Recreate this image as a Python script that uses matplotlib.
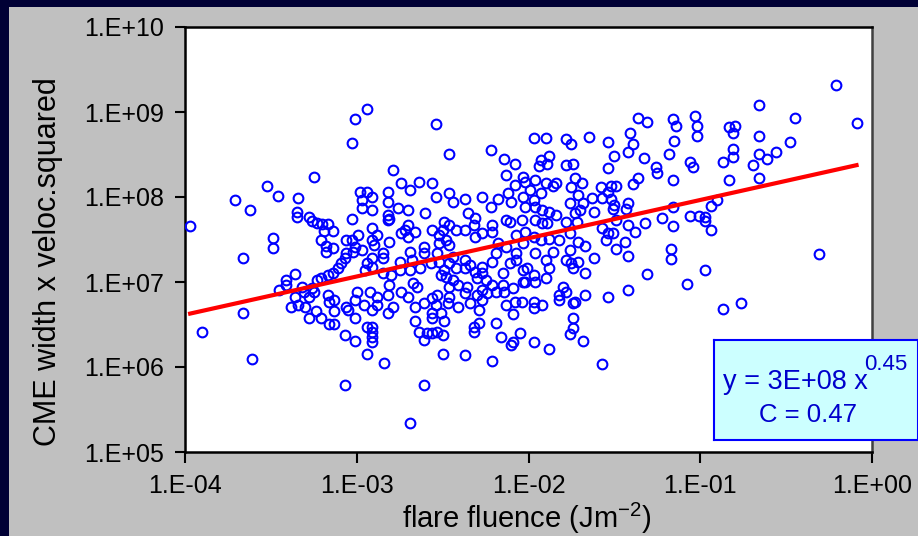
import numpy as np
import matplotlib
matplotlib.use("Agg")
import matplotlib.pyplot as plt
import matplotlib.ticker as mticker
from matplotlib.patches import Rectangle

plt.rcParams["font.family"] = ["Liberation Sans", "DejaVu Sans"]
plt.rcParams["mathtext.fontset"] = "custom"
plt.rcParams["mathtext.rm"] = "Liberation Sans"
plt.rcParams["mathtext.it"] = "Liberation Sans"

NAVY = "#000035"
PANEL = "#C0C0C0"
BLUE = "#0000FF"
RED = "#FF0000"

# log10 of flare fluence (J m^-2)
log_fluence = [
    -0.21, -2.94, -3.01, -3.03, -2.54, -2.46, -2.22, -2.14, -2.08, -1.97,
    -2.79, -1.90, -1.78, -1.75, -1.65, -1.54, -1.36, -1.31, -1.41, -1.39,
    -1.42, -1.50, -1.33, -1.16, -1.14, -1.15, -1.18, -1.03, -1.02, -1.02,
    -1.06, -1.88, -1.93, -1.94, -1.89, -1.78, -1.74, -1.54, -1.26, -1.04,
    -0.66, -0.45, -0.09, -0.83, -0.80, -0.81, -0.66, -0.48, -0.81, -0.81,
    -0.66, -0.56, -0.61, -0.87, -0.69, -1.25, -1.16, -1.36, -1.39, -2.02,
    -1.96, -1.90, -1.86, -1.84, -1.75, -1.69, -1.73, -1.58, -1.52, -1.49,
    -1.54, -1.57, -1.52, -1.50, -1.51, -1.63, -1.71, -1.76, -1.68, -1.62,
    -1.70, -1.73, -1.72, -1.78, -1.84, -1.88, -1.92, -1.96, -2.02, -2.04,
    -1.96, -1.92, -1.89, -2.03, -1.97, -1.93, -1.99, -1.42, -1.43, -1.49,
    -1.42, -1.38, -1.32, -1.22, -1.16, -1.16, -1.06, -1.57, -1.54, -1.55,
    -1.51, -1.44, -1.49, -1.42, -1.62, -1.67, -1.71, -1.76, -1.82, -1.88,
    -1.93, -1.97, -2.02, -2.03, -1.96, -1.90, -1.88, -2.01, -1.78, -1.75,
    -1.71, -1.74, -1.86, -1.76, -1.67, -1.97, -1.96, -1.90, -2.02, -1.80,
    -1.78, -1.82, -1.67, -1.73, -1.54, -1.42, -1.31, -1.17, -1.17, -1.08,
    -1.97, -1.92, -2.04, -0.83, -0.66, -0.90, -0.94, -1.01, -0.97, -0.97,
    -0.94, -0.31, -0.97, -0.76, -0.87, -2.74, -2.69, -2.64, -2.56, -2.54,
    -2.46, -2.44, -2.37, -2.27, -2.22, -2.18, -2.12, -2.10, -2.13, -2.08,
    -2.03, -2.98, -2.94, -2.91, -2.97, -2.97, -2.91, -3.03, -2.82, -2.82,
    -2.76, -2.70, -2.82, -2.81, -2.82, -2.60, -2.70, -2.72, -2.66, -2.74,
    -2.70, -2.56, -2.49, -2.50, -2.46, -2.52, -2.48, -2.52, -2.46, -2.42,
    -2.37, -2.35, -2.31, -2.32, -2.31, -2.27, -2.21, -2.21, -2.18, -2.13,
    -2.11, -2.07, -2.91, -2.91, -2.88, -2.90, -2.81, -3.01, -2.97, -3.03,
    -2.85, -2.85, -2.91, -2.94, -2.91, -2.95, -2.75, -2.69, -2.68, -2.61,
    -2.61, -2.53, -2.57, -2.63, -2.69, -2.75, -2.80, -2.85, -2.52, -2.49,
    -2.46, -2.44, -2.42, -2.37, -2.37, -2.34, -2.31, -2.27, -2.27, -2.21,
    -2.30, -2.25, -2.19, -2.13, -2.07, -2.07, -2.03, -2.11, -2.15, -2.15,
    -2.03, -2.09, -2.14, -2.21, -2.19, -2.27, -2.30, -2.36, -2.41, -2.44,
    -2.48, -2.51, -2.46, -2.46, -2.53, -2.56, -2.54, -2.61, -2.65, -2.67,
    -2.74, -2.81, -2.82, -2.88, -2.92, -3.00, -3.01, -2.96, -2.88, -2.79,
    -2.70, -2.37, -2.34, -2.27, -2.24, -2.41, -2.47, -2.13, -2.08, -2.99,
    -3.02, -3.25, -3.52, -3.46, -3.71, -3.62, -3.34, -3.35, -3.35, -3.28,
    -3.26, -3.23, -3.20, -3.17, -3.19, -3.14, -3.97, -3.49, -3.49, -3.66,
    -3.21, -3.18, -3.14, -3.18, -3.06, -3.06, -3.07, -3.09, -3.11, -3.14,
    -3.17, -3.21, -3.23, -3.36, -3.41, -3.41, -3.45, -3.32, -3.31, -3.26,
    -3.25, -3.28, -3.36, -3.17, -3.16, -3.13, -3.06, -3.38, -3.34, -3.30,
    -3.66, -3.90, -3.61, -3.28, -3.24, -3.21, -3.16, -3.13, -3.13, -3.07,
    -3.01, -3.01, -3.05, -3.07, -2.91, -2.94, -2.91, -2.91, -2.91, -2.91,
    -2.94, -2.84, -2.82, -2.66, -2.66, -2.64, -2.61, -2.59, -2.56, -2.56,
    -2.53, -2.50, -2.49, -2.51, -2.56, -2.50, -2.61, -2.69, -2.37, -2.32,
    -2.32, -2.29, -2.29, -2.21, -2.19, -2.16, -2.10, -2.09, -2.09, -2.05,
    -1.97, -1.97, -1.88, -1.82, -1.74, -1.74, -1.74, -1.76, -1.68, -1.57,
]

# log10 of CME width x velocity squared
log_product = [
    9.32, 9.04, 8.92, 8.64, 8.86, 8.51, 8.55, 8.45, 8.39, 8.69,
    8.32, 8.69, 8.68, 8.62, 8.71, 8.65, 8.93, 8.88, 8.75, 8.62,
    8.53, 8.48, 8.46, 8.92, 8.84, 8.66, 8.51, 8.95, 8.84, 8.72,
    8.41, 8.48, 8.44, 8.36, 8.39, 8.38, 8.39, 8.34, 8.35, 8.35,
    9.08, 8.93, 8.87, 8.82, 8.84, 8.75, 8.72, 8.65, 8.56, 8.47,
    8.51, 8.53, 8.45, 8.41, 8.38, 8.28, 8.20, 8.22, 8.15, 8.18,
    8.20, 8.16, 8.13, 8.16, 8.12, 8.16, 8.22, 8.12, 8.13, 8.13,
    8.06, 7.99, 7.98, 7.91, 7.86, 7.99, 8.02, 7.93, 7.93, 7.82,
    7.85, 7.81, 7.71, 7.71, 7.79, 7.82, 7.85, 7.88, 7.88, 7.73,
    7.73, 7.69, 7.69, 8.00, 7.96, 8.05, 8.08, 7.93, 7.86, 7.73,
    7.67, 7.59, 7.69, 7.75, 7.88, 7.66, 7.78, 7.64, 7.58, 7.49,
    7.58, 7.47, 7.39, 7.31, 7.28, 7.42, 7.47, 7.58, 7.49, 7.51,
    7.49, 7.53, 7.59, 7.46, 7.34, 7.26, 7.16, 7.16, 7.26, 7.22,
    7.24, 7.16, 7.35, 7.38, 7.11, 7.08, 7.00, 7.05, 7.00, 6.94,
    6.88, 6.85, 6.85, 6.76, 6.82, 6.91, 7.09, 7.39, 7.27, 6.98,
    6.76, 6.73, 6.76, 8.20, 8.22, 7.96, 7.89, 7.78, 7.76, 7.72,
    7.61, 7.33, 7.14, 6.75, 6.68, 8.16, 8.08, 8.18, 8.16, 8.00,
    8.05, 7.94, 7.98, 8.00, 7.88, 7.98, 8.05, 7.94, 8.26, 8.14,
    8.24, 8.06, 8.06, 8.00, 7.96, 7.87, 7.85, 7.74, 8.06, 7.94,
    7.87, 7.85, 7.79, 7.74, 7.73, 7.81, 7.67, 7.61, 7.59, 7.58,
    7.53, 7.61, 7.71, 7.61, 7.67, 7.55, 7.49, 7.46, 7.44, 7.61,
    7.61, 7.81, 7.75, 7.67, 7.53, 7.58, 7.67, 7.59, 7.46, 7.73,
    7.71, 7.55, 7.64, 7.49, 7.55, 7.44, 7.47, 7.41, 7.38, 7.49,
    7.34, 7.28, 7.28, 7.22, 7.18, 7.14, 7.24, 7.35, 7.26, 7.41,
    7.34, 7.34, 7.22, 7.16, 7.14, 7.14, 7.08, 7.11, 7.24, 7.14,
    7.22, 7.29, 7.16, 7.16, 7.26, 7.20, 7.12, 7.18, 7.11, 7.24,
    7.05, 7.02, 7.34, 7.41, 7.34, 7.26, 7.14, 7.22, 7.11, 6.96,
    7.00, 6.93, 6.88, 6.96, 6.88, 6.91, 6.85, 6.94, 6.96, 7.02,
    7.06, 7.08, 6.94, 6.82, 6.85, 6.81, 6.73, 6.75, 6.94, 6.99,
    6.88, 6.96, 6.85, 6.82, 6.88, 6.88, 6.79, 6.73, 6.73, 6.71,
    6.82, 6.87, 6.75, 6.79, 6.87, 6.71, 6.75, 6.73, 6.76, 7.55,
    7.35, 8.24, 8.13, 8.01, 7.96, 7.85, 7.99, 7.82, 7.76, 7.76,
    7.72, 7.69, 7.68, 7.68, 7.60, 7.60, 7.66, 7.52, 7.40, 7.28,
    7.49, 7.42, 7.40, 7.35, 7.49, 7.34, 7.28, 7.22, 7.16, 7.11,
    7.08, 7.05, 7.02, 7.09, 7.02, 6.96, 6.91, 6.94, 6.88, 6.93,
    6.88, 6.82, 6.82, 6.85, 6.76, 6.79, 6.71, 6.71, 6.73, 6.71,
    6.64, 6.41, 6.09, 6.58, 6.66, 6.58, 6.51, 6.51, 6.66, 6.38,
    6.31, 6.58, 6.67, 5.79, 6.67, 6.47, 6.47, 6.41, 6.35, 6.29,
    6.15, 6.05, 6.64, 6.71, 6.54, 6.41, 6.32, 6.40, 6.58, 6.40,
    6.41, 6.38, 6.54, 6.64, 6.64, 6.15, 5.79, 5.34, 6.14, 6.47,
    6.41, 6.52, 6.67, 6.07, 6.52, 6.35, 6.26, 6.29, 6.62, 6.40,
    6.69, 6.29, 6.21, 6.79, 6.75, 6.58, 6.46, 6.39, 6.31, 6.04,
]

# power-law fit drawn by the original chart
fit_coef = 2.6e8
fit_exp = 0.45
fit_label = "y = 3E+08 x"
fit_power = "0.45"
corr_label = "C = 0.47"

x_ticks = [1e-4, 1e-3, 1e-2, 1e-1, 1e0]
y_ticks = [1e5, 1e6, 1e7, 1e8, 1e9, 1e10]

fluence = 10 ** np.array(log_fluence)
product = 10 ** np.array(log_product)

W, H = 918, 536
fig = plt.figure(figsize=(W / 100, H / 100), dpi=100)
fig.patch.set_facecolor(NAVY)
fig.patches.append(Rectangle((9 / W, 0), 1, 1 - 7 / H,
                             transform=fig.transFigure, facecolor=PANEL,
                             edgecolor="none", zorder=-10))

ax = fig.add_axes([185 / W, 1 - 452 / H, 687 / W, 425 / H])
ax.set_zorder(1)
ax.set_facecolor("white")
ax.set_xscale("log")
ax.set_yscale("log")
ax.set_xlim(1e-4, 1e0)
ax.set_ylim(1e5, 1e10)

ax.plot(fluence, product, linestyle="none", marker="o", markersize=7,
        markerfacecolor="none", markeredgecolor=BLUE, markeredgewidth=1.5,
        zorder=3)

fit_x = np.logspace(min(log_fluence), max(log_fluence), 200)
ax.plot(fit_x, fit_coef * fit_x ** fit_exp, color=RED, linewidth=3, zorder=4)

fmt = mticker.FuncFormatter(lambda v, _: f"1.E{int(round(np.log10(v))):+03d}")
ax.xaxis.set_major_locator(mticker.FixedLocator(x_ticks))
ax.yaxis.set_major_locator(mticker.FixedLocator(y_ticks))
ax.xaxis.set_minor_locator(mticker.NullLocator())
ax.yaxis.set_minor_locator(mticker.NullLocator())
ax.xaxis.set_major_formatter(fmt)
ax.yaxis.set_major_formatter(fmt)
ax.tick_params(axis="both", direction="out", width=1.5,
               labelsize=18, colors="black")
ax.tick_params(axis="x", length=8, pad=8)
ax.tick_params(axis="y", length=7, pad=8)
for side in ["left", "bottom", "top", "right"]:
    ax.spines[side].set_linewidth(1.8)
    ax.spines[side].set_color("black")
ax.spines["right"].set_color("#404040")

fig.text(48 / W, 1 - 262 / H, "CME width x veloc.squared", rotation=90,
         fontsize=22, ha="center", va="center")
fig.text(527 / W, 1 - 518 / H, r"flare fluence (Jm$^{\mathregular{-2}}$)",
         fontsize=21, ha="center", va="center")

# fit annotation box, drawn above the axes
box_ax = fig.add_axes([714 / W, 1 - 440 / H, (918 - 714) / W, 100 / H])
box_ax.set_zorder(5)
box_ax.set_xticks([])
box_ax.set_yticks([])
box_ax.set_facecolor("#CCFFFF")
for side in box_ax.spines.values():
    side.set_color(BLUE)
    side.set_linewidth(1.5)
fig.text(723 / W, 1 - 382 / H, fit_label, fontsize=19.5, color="#0000CC",
         ha="left", va="center", zorder=6)
fig.text(864 / W, 1 - 365 / H, fit_power, fontsize=16, color="#0000CC",
         ha="left", va="center", zorder=6)
fig.text(808 / W, 1 - 415 / H, corr_label, fontsize=18.5, color="#0000CC",
         ha="center", va="center", zorder=6)

fig.savefig("out.png", dpi=100, facecolor=fig.get_facecolor())
